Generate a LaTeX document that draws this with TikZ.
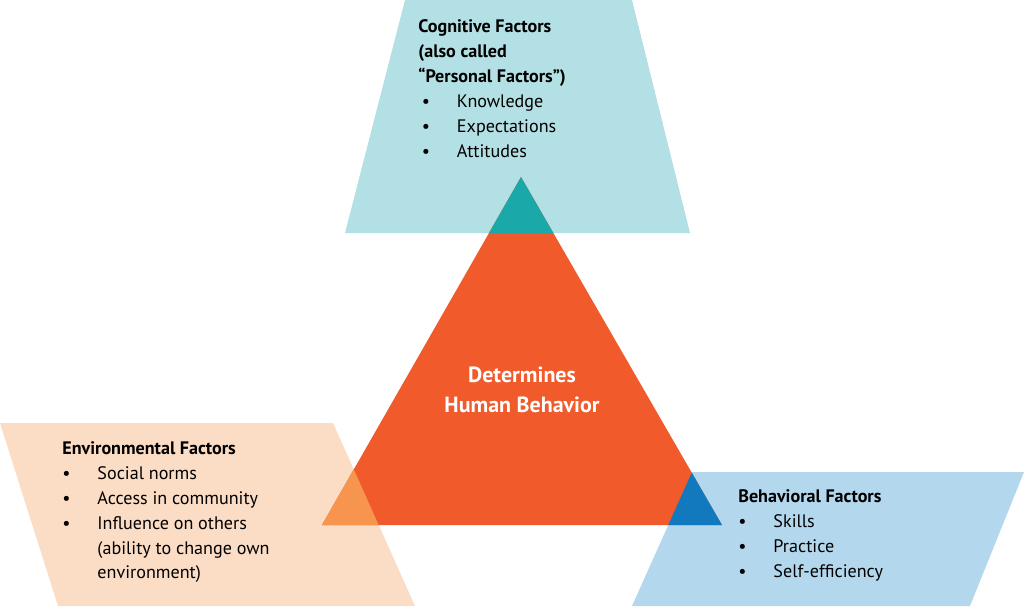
\documentclass[tikz,border=0pt]{standalone}
\usepackage{fontspec}
\setmainfont{PT Sans}
\definecolor{tri}{HTML}{F15A2B}
\definecolor{cogbg}{HTML}{B3E0E4}
\definecolor{cogov}{HTML}{1AA9A8}
\definecolor{envbg}{HTML}{FBDCC5}
\definecolor{envov}{HTML}{F7944D}
\definecolor{behbg}{HTML}{B3D8EE}
\definecolor{behov}{HTML}{1279BF}
\newcommand{\itm}[1]{\makebox[20pt][l]{\textbullet}#1}
\tikzset{
  factor/.style={anchor=north west, align=left, inner sep=0pt,
    font=\fontsize{10.3pt}{14.2pt}\selectfont},
  centre/.style={align=center, text=white,
    font=\fontsize{12.5pt}{17pt}\selectfont\bfseries}
}
\begin{document}
\begin{tikzpicture}[x=0.02cm,y=-0.02cm]
                \useasboundingbox (0,0) rectangle (1024,606);
                \coordinate (apex) at (521,177);
                \coordinate (bl) at (322,525);
                \coordinate (br) at (722,525);

                \fill[cogbg] (405,0) -- (632,0) -- (690,233) -- (345,233) -- cycle;
                \fill[envbg] (0,423) -- (333,423) -- (415,606) -- (58,606) -- cycle;
                \fill[behbg] (692,472) -- (1024,472) -- (970,606) -- (632,606) -- cycle;
                \fill[tri] (apex) -- (bl) -- (br) -- cycle;

                \begin{scope}
                    \clip (apex) -- (bl) -- (br) -- cycle;
                    \fill[cogov] (405,0) -- (632,0) -- (690,233) -- (345,233) -- cycle;
                    \fill[envov] (0,423) -- (333,423) -- (415,606) -- (58,606) -- cycle;
                    \fill[behov] (692,472) -- (1024,472) -- (970,606) -- (632,606) -- cycle;
                \end{scope}

                \node[factor] (cog) at (418,19) {\textbf{Cognitive Factors}\\
                    \textbf{(also called}\\ \textbf{“Personal Factors”)}\\
                    \hspace{2pt}\itm{Knowledge}\\ \hspace{2pt}\itm{Expectations}\\ \hspace{2pt}\itm{Attitudes}};
                \node[factor] (env) at (62,441) {\textbf{Environmental Factors}\\
                    \itm{Social norms}\\ \itm{Access in community}\\ \itm{Influence on others}\\
                    \hspace{20pt}(ability to change own\\ \hspace{20pt}environment)};
                \node[factor] (beh) at (738,489) {\textbf{Behavioral Factors}\\
                    \itm{Skills}\\ \itm{Practice}\\ \itm{Self-efficiency}};
                \node[centre] (core) at (522,390) {Determines\\ Human Behavior};
            \end{tikzpicture}
\end{document}
